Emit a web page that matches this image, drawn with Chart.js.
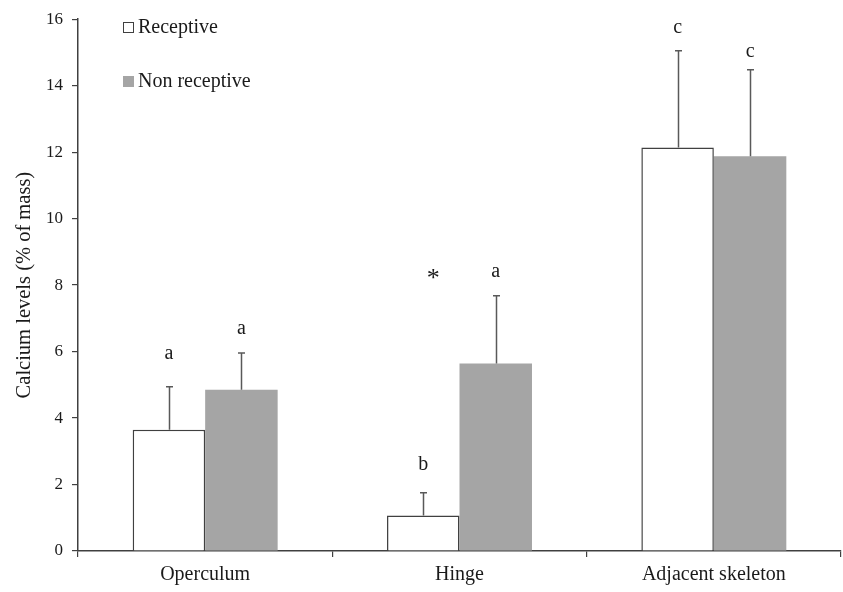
<!DOCTYPE html>
<html>
<head>
<meta charset="utf-8">
<script src="https://cdn.jsdelivr.net/npm/chart.js@4/dist/chart.umd.min.js"></script>
<style>
  html, body { margin: 0; padding: 0; background: #ffffff; }
  #wrap { width: 843px; height: 592px; position: relative; }
</style>
</head>
<body>
<div id="wrap"><canvas id="c" width="843" height="592"></canvas></div>
<script>
// ---- Data ----
const categories = ['Operculum', 'Hinge', 'Adjacent skeleton'];
const seriesNames = ['Receptive', 'Non receptive'];
const receptive = [3.65, 1.07, 12.14];
const nonReceptive = [4.85, 5.64, 11.88];
const receptiveErr = [1.29, 0.68, 2.91];
const nonReceptiveErr = [1.11, 2.04, 2.60];
const receptiveLetters = ['a', 'b', 'c'];
const nonReceptiveLetters = ['a', 'a', 'c'];
const receptiveLetterHeights = [5.92, 2.58, 15.73];
const nonReceptiveLetterHeights = [6.70, 8.40, 15.02];
const asteriskCategory = 'Hinge';
const asteriskHeight = 8.34;
const yTicks = [0, 2, 4, 6, 8, 10, 12, 14, 16];

const FONT = '"Liberation Serif", "Times New Roman", serif';
const AXIS = '#404040';
const GREY = '#a5a5a5';
const ERR = '#595959';

const errors = [receptiveErr, nonReceptiveErr];
const letters = [receptiveLetters, nonReceptiveLetters];
const letterHeights = [receptiveLetterHeights, nonReceptiveLetterHeights];

const annotatePlugin = {
  id: 'annotate',
  afterDatasetsDraw(chart) {
    const ctx = chart.ctx;
    const y = chart.scales.y;
    ctx.save();
    chart.data.datasets.forEach((ds, di) => {
      const meta = chart.getDatasetMeta(di);
      meta.data.forEach((bar, i) => {
        const top = y.getPixelForValue(ds.data[i] + errors[di][i]);
        const x = Math.round(bar.x) + 0.5;
        ctx.strokeStyle = ERR;
        ctx.lineWidth = 1.5;
        ctx.beginPath();
        ctx.moveTo(x, bar.y);
        ctx.lineTo(x, top);
        ctx.moveTo(x - 3.5, top);
        ctx.lineTo(x + 3.5, top);
        ctx.stroke();
        ctx.fillStyle = '#1a1a1a';
        ctx.font = '20px ' + FONT;
        ctx.textAlign = 'center';
        ctx.textBaseline = 'middle';
        ctx.fillText(letters[di][i], bar.x, y.getPixelForValue(letterHeights[di][i]));
      });
    });
    // asterisk
    const ai = categories.indexOf(asteriskCategory);
    const rb = chart.getDatasetMeta(0).data[ai];
    ctx.font = '26px ' + FONT;
    ctx.fillStyle = '#1a1a1a';
    ctx.textAlign = 'center';
    ctx.textBaseline = 'middle';
    ctx.fillText('*', rb.x + 10, y.getPixelForValue(asteriskHeight) + 5);

    // legend
    const lx = 123, ly = [28, 82];
    ctx.font = '20px ' + FONT;
    ctx.textAlign = 'left';
    ctx.textBaseline = 'middle';
    ly.forEach((yy, k) => {
      if (k === 0) {
        ctx.fillStyle = '#ffffff';
        ctx.fillRect(lx + 0.5, yy - 5.5, 10, 10);
        ctx.strokeStyle = AXIS;
        ctx.lineWidth = 1;
        ctx.strokeRect(lx + 0.5, yy - 5.5, 10, 10);
      } else {
        ctx.fillStyle = GREY;
        ctx.fillRect(lx, yy - 6, 11, 11);
      }
      ctx.fillStyle = '#1a1a1a';
      ctx.fillText(seriesNames[k], lx + 15, yy);
    });
    ctx.restore();
  }
};

new Chart(document.getElementById('c'), {
  type: 'bar',
  data: {
    labels: categories,
    datasets: [
      {
        label: seriesNames[0],
        data: receptive,
        backgroundColor: '#ffffff',
        borderColor: AXIS,
        borderWidth: 1.5,
        barPercentage: 1.0,
        categoryPercentage: 0.57
      },
      {
        label: seriesNames[1],
        data: nonReceptive,
        backgroundColor: GREY,
        borderWidth: 0,
        barPercentage: 1.0,
        categoryPercentage: 0.57
      }
    ]
  },
  options: {
    responsive: false,
    animation: false,
    events: [],
    layout: { padding: { top: 6, right: 2, left: 0, bottom: 0 } },
    plugins: {
      legend: { display: false },
      tooltip: { enabled: false }
    },
    scales: {
      x: {
        grid: {
          display: true,
          drawOnChartArea: false,
          drawTicks: true,
          tickLength: 6,
          color: AXIS,
          lineWidth: 1.2,
          offset: true
        },
        border: { display: true, color: AXIS, width: 1.5 },
        ticks: {
          color: '#1a1a1a',
          font: { family: FONT, size: 20 },
          padding: 6,
          maxRotation: 0
        },
        afterFit(scale) { scale.height = 41; }
      },
      y: {
        min: 0,
        max: 16,
        afterBuildTicks(scale) { scale.ticks = yTicks.map(v => ({ value: v })); },
        grid: {
          display: true,
          drawOnChartArea: false,
          drawTicks: true,
          tickLength: 6,
          color: AXIS,
          lineWidth: 1.2
        },
        border: { display: true, color: AXIS, width: 1.5 },
        ticks: {
          color: '#1a1a1a',
          font: { family: FONT, size: 17 },
          padding: 9
        },
        title: {
          display: true,
          text: 'Calcium levels (% of mass)',
          color: '#1a1a1a',
          font: { family: FONT, size: 20.5 },
          padding: { top: 12, bottom: 0 }
        },
        afterFit(scale) { scale.width = 78; }
      }
    }
  },
  plugins: [annotatePlugin]
});
</script>
</body>
</html>
